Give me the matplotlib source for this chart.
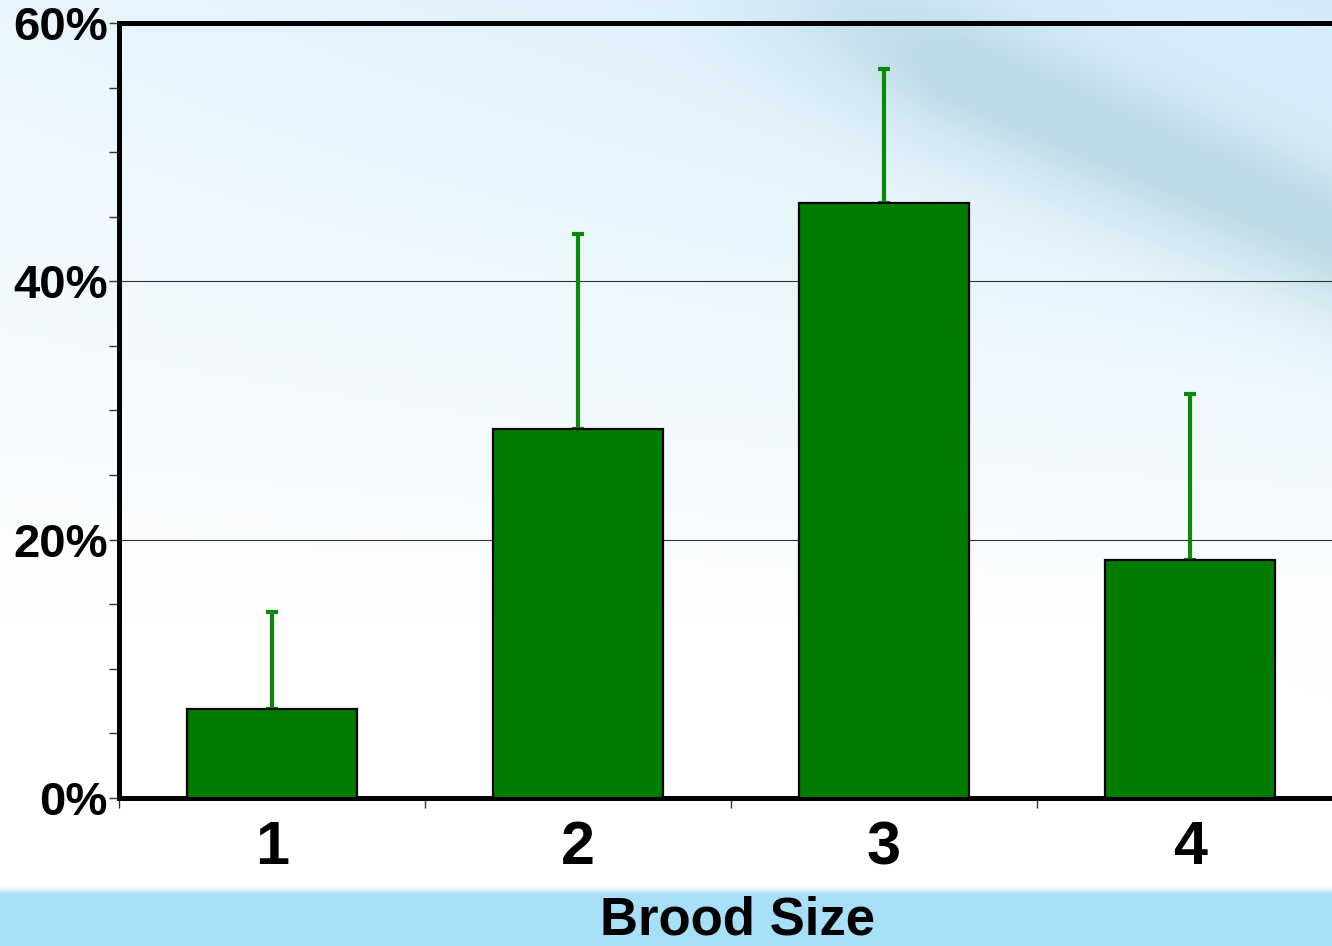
import numpy as np
import matplotlib.pyplot as plt
from matplotlib.ticker import MultipleLocator, FuncFormatter

# data (percent)
categories = ['1', '2', '3', '4']
values = [6.9, 28.6, 46.1, 18.4]
err_upper = [7.5, 15.1, 10.3, 12.9]

W, H = 1332, 946
plt.rcParams['font.family'] = ['Liberation Sans', 'DejaVu Sans']

fig = plt.figure(figsize=(W / 100, H / 100), dpi=100)

# background: soft blue wash with a blurred diagonal streak, blue band at bottom
yy, xx = np.mgrid[0:H, 0:W].astype(float)
base = np.array([1.0, 1.0, 1.0])
blue = np.array([212, 236, 250]) / 255
w = np.clip(1 - yy / 620, 0, 1) ** 0.9 * (0.5 + 0.5 * xx / W)
img = base * (1 - w[..., None]) + blue * w[..., None]
# diagonal streak
x0, y0, x1, y1 = 700, -40, 1332, 235
dx, dy = x1 - x0, y1 - y0
L = np.hypot(dx, dy)
t = ((xx - x0) * dx + (yy - y0) * dy) / L ** 2
d = np.abs((xx - x0) * dy - (yy - y0) * dx) / L
s = np.exp(-(d / 70) ** 2) * np.clip(t * 2.5, 0, 1) * 0.5
streak = np.array([150, 195, 205]) / 255
img = img * (1 - s[..., None]) + streak * s[..., None]
band = np.clip((yy - 886) / 8, 0, 1)
bandc = np.array([168, 224, 248]) / 255
img = img * (1 - band[..., None]) + bandc * band[..., None]

bg = fig.add_axes([0, 0, 1, 1], zorder=-1)
bg.imshow(img, aspect='auto', extent=[0, W, H, 0])
bg.axis('off')

left, right, bottom, top = 119, 1343, 798, 23
ax = fig.add_axes([left / W, (H - bottom) / H, (right - left) / W, (bottom - top) / H])
ax.set_facecolor('none')

x = np.arange(1, len(categories) + 1)
ax.bar(x, values, width=0.556, color='#007c00', edgecolor='black', linewidth=1.6, zorder=3)
ax.errorbar(x, values, yerr=[np.zeros(len(values)), err_upper], fmt='none',
            ecolor='#0a8a0a', elinewidth=3, capsize=4, capthick=3, zorder=2)

ax.set_xlim(0.5, 4.5)
ax.set_ylim(0, 60)
ax.yaxis.set_major_locator(MultipleLocator(20))
ax.yaxis.set_minor_locator(MultipleLocator(5))
ax.yaxis.set_major_formatter(FuncFormatter(lambda v, p: f'{v:.0f}%'))
ax.set_xticks(x)
ax.set_xticklabels(categories)
ax.set_xticks(np.arange(0.5, 4.6, 1), minor=True)
ax.tick_params(axis='x', which='major', length=0, pad=16, labelsize=44)
ax.tick_params(axis='x', which='minor', length=7, width=1, color='#333333')
ax.tick_params(axis='y', which='both', length=7, width=1, color='#333333', labelsize=34, pad=1)
for lab in ax.get_xticklabels() + ax.get_yticklabels():
    lab.set_fontweight('bold')
for lab in ax.get_yticklabels():
    lab.set_verticalalignment('center_baseline')

ax.grid(axis='y', which='major', color='#333333', linewidth=0.8, zorder=1)
for sp in ax.spines.values():
    sp.set_linewidth(3.6)

fig.text(737 / W, 1 - 934 / H, 'Brood Size', ha='center', va='baseline',
         fontsize=38, fontweight='bold')

fig.savefig('out.png', dpi=100)
